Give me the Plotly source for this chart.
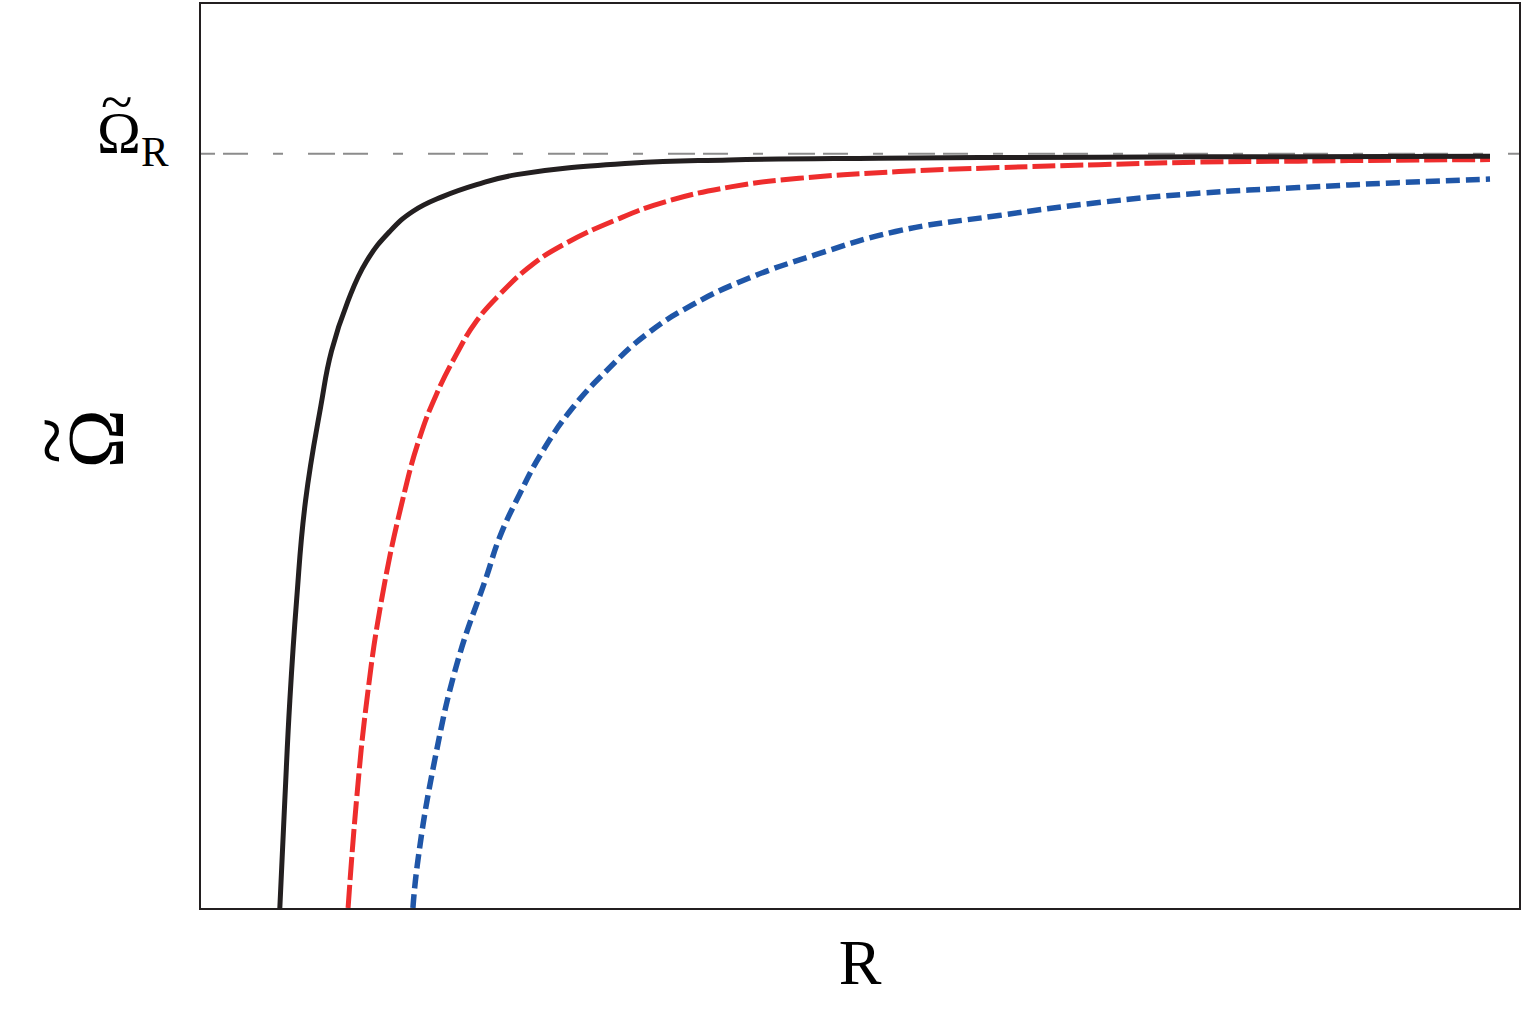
import plotly.graph_objects as go

# ---- data (R in arbitrary units, Omega normalised so that Omega_R = 1) ----
omega_R = 1.0

R_black = [0.598, 0.636, 0.674, 0.725, 0.793, 0.909, 0.990, 1.114, 1.255, 1.432,
           1.606, 1.833, 2.091, 2.394, 3.250, 4.008, 5.144, 6.811, 8.326, 9.780]
W_black = [0.0, 0.1429, 0.2751, 0.4074, 0.5397, 0.6653, 0.7381, 0.8042, 0.8571, 0.8968,
           0.9233, 0.9431, 0.9590, 0.9722, 0.9872, 0.9917, 0.9940, 0.9954, 0.9960, 0.9967]

R_red = [1.116, 1.180, 1.258, 1.369, 1.528, 1.659, 1.786, 1.937, 2.089, 2.265, 2.515,
         2.770, 3.149, 3.528, 4.030, 4.538, 5.295, 6.053, 6.811, 7.568, 8.326, 9.083, 9.780]
W_red = [0.0, 0.1429, 0.2751, 0.4074, 0.5397, 0.6234, 0.6808, 0.7337, 0.7778, 0.8131, 0.8532,
         0.8813, 0.9123, 0.9365, 0.9563, 0.9673, 0.9762, 0.9815, 0.9854, 0.9888, 0.9901, 0.9914, 0.9921]

R_blue = [1.608, 1.646, 1.773, 1.949, 2.164, 2.265, 2.417, 2.593, 2.820, 3.073, 3.377,
          3.730, 4.159, 4.664, 5.270, 6.053, 6.811, 7.568, 8.326, 9.083, 9.780]
W_blue = [0.0, 0.0635, 0.1958, 0.3280, 0.4382, 0.4911, 0.5485, 0.6058, 0.6631, 0.7116, 0.7601,
          0.7998, 0.8351, 0.8660, 0.8968, 0.9180, 0.9352, 0.9475, 0.9550, 0.9616, 0.9663]

R_ref = [-0.364, 10.1]
W_ref = [omega_R, omega_R]

y_tickvals = [omega_R]
y_ticktext = ["Ω<sub>R</sub>"]   # tilde accent drawn above it
accent = "~"
x_title = "R"
y_title = "Ω"                    # with tilde accent (rotated axis title)

R_range = [0, 10]
W_range = [0, 1.1984]

FONT = "Liberation Serif, Times New Roman, serif"

fig = go.Figure()

fig.add_trace(go.Scatter(x=R_ref, y=W_ref, mode="lines",
                         line=dict(color="#8c8c8c", width=2, dash="10px,25px,27px,8px,25px,25px"),
                         hoverinfo="skip", showlegend=False))
fig.add_trace(go.Scatter(x=R_blue, y=W_blue, mode="lines",
                         line=dict(color="#1f56a8", width=5.5, dash="14px,6px",
                                   shape="spline", smoothing=1.3),
                         showlegend=False))
fig.add_trace(go.Scatter(x=R_red, y=W_red, mode="lines",
                         line=dict(color="#ee2d2d", width=5, dash="23px,5px",
                                   shape="spline", smoothing=1.3),
                         showlegend=False))
fig.add_trace(go.Scatter(x=R_black, y=W_black, mode="lines",
                         line=dict(color="#231f20", width=5, shape="spline", smoothing=1.3),
                         showlegend=False))

# y-axis title: Omega with tilde, rotated
fig.add_annotation(text=y_title, textangle=-90, showarrow=False,
                   xref="paper", yref="paper", x=0, y=0.5182,
                   xanchor="center", yanchor="middle", xshift=-105,
                   font=dict(size=80, family=FONT, color="black"))
fig.add_annotation(text=accent, textangle=-90, showarrow=False,
                   xref="paper", yref="paper", x=0, y=0.5166,
                   xanchor="center", yanchor="middle", xshift=-150,
                   font=dict(size=86, family=FONT, color="black"))
# tilde over the Omega_R tick label
fig.add_annotation(text=accent, showarrow=False,
                   xref="paper", yref="y", x=0, y=omega_R,
                   xanchor="center", yanchor="middle", xshift=-85, yshift=52,
                   font=dict(size=58, family=FONT, color="black"))

fig.update_layout(
    width=1523, height=1015,
    margin=dict(l=201, r=2, t=2, b=107),
    paper_bgcolor="white", plot_bgcolor="white",
    font=dict(family=FONT, color="black"),
    xaxis=dict(range=R_range, showgrid=False, zeroline=False, showticklabels=False,
               ticks="", showline=True, mirror=True, linecolor="#231f20", linewidth=1.5,
               title=dict(text=x_title, font=dict(size=64, family=FONT), standoff=30)),
    yaxis=dict(range=W_range, showgrid=False, zeroline=False, tickvals=y_tickvals,
               ticktext=y_ticktext, ticks="", tickfont=dict(size=59, family=FONT),
               ticklabelstandoff=19, ticklabelshift=-21,
               showline=True, mirror=True, linecolor="#231f20", linewidth=1.5),
)

fig.write_html("out.html")
